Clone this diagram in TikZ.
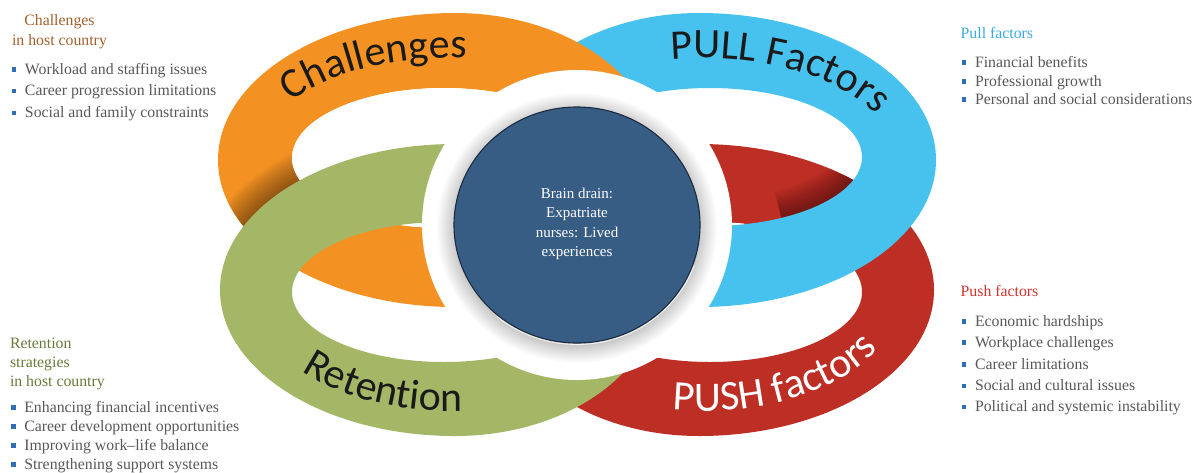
\documentclass[tikz,border=0pt]{standalone}
\usepackage{fontspec}
\setmainfont{Liberation Serif}
\newfontfamily\ringfont{Carlito}
\usetikzlibrary{decorations.text}

\definecolor{ringorange}{HTML}{F39223}
\definecolor{ringblue}{HTML}{47C1EE}
\definecolor{ringred}{HTML}{BD2E25}
\definecolor{ringgreen}{HTML}{A3B767}
\definecolor{corefill}{HTML}{375D85}
\definecolor{coreline}{HTML}{1B2C40}
\definecolor{labelblack}{HTML}{1A1A1A}
\definecolor{listgrey}{HTML}{585858}
\definecolor{bulletblue}{HTML}{2F6EB5}
\definecolor{headbrown}{HTML}{A3602C}
\definecolor{headblue}{HTML}{3AAAE0}
\definecolor{headred}{HTML}{D0342C}
\definecolor{headolive}{HTML}{6A7A3C}

\newcommand\sqbullet{\textcolor{bulletblue}{\rule[2.4pt]{4.6pt}{4.6pt}}\hspace{8.7pt}}

% oval made of four quarter ellipses: centre x, centre y, left radius, right radius, vertical radius
\newcommand\ovalpath[5]{(#1,#2) ++(-#3,0)
  arc[start angle=180, end angle=270, x radius=#3, y radius=#5]
  arc[start angle=270, end angle=360, x radius=#4, y radius=#5]
  arc[start angle=0,   end angle=90,  x radius=#4, y radius=#5]
  arc[start angle=90,  end angle=180, x radius=#3, y radius=#5] -- cycle}

\tikzset{
  listitem/.style={anchor=base west, inner sep=0pt, outer sep=0pt, text=listgrey,
                   font=\fontsize{15.8}{19}\selectfont},
  listhead/.style={anchor=base west, inner sep=0pt, outer sep=0pt,
                   font=\fontsize{15.8}{19}\selectfont},
  coretext/.style={align=center, text=white, inner sep=0pt,
                   font=\fontsize{15}{19.5}\selectfont},
  ringlabel/.style 2 args={decorate, decoration={text along path, text color=#1,
                   text={|\ringfont\fontsize{42}{42}\selectfont|#2}}},
  ringshadow/.style={black, opacity=0.03, line width=#1}
}

\begin{document}
\begin{tikzpicture}[x=1pt, y=-1pt]
\useasboundingbox (0,0) rectangle (1199,472);
\fill[white] (0,0) rectangle (1199,472);

% ---------- rings, back to front ----------
% push factors
\fill[ringred, even odd rule] \ovalpath{699}{290}{204}{235}{146}
                              (710,292) ellipse [x radius=152, y radius=70];
% darkening of the red band where it runs under the pull ring
\begin{scope}
  \clip (710,157) ellipse [x radius=152, y radius=69];
  \clip \ovalpath{699}{290}{204}{235}{146};
  \foreach \w in {4,8,...,56}
    \draw[ringshadow=\w pt] (710,157) ++(-50:152 and 69)
      arc[start angle=-50, end angle=62, x radius=152, y radius=69];
  \fill[white] (710,292) ellipse [x radius=152, y radius=70];
\end{scope}
% pull factors
\fill[ringblue, even odd rule] \ovalpath{699}{160}{204}{237}{147}
                               (710,157) ellipse [x radius=152, y radius=69];
% challenges
\fill[ringorange, even odd rule] \ovalpath{455}{160}{237}{204}{147}
                                 (444,158) ellipse [x radius=152, y radius=70];
% darkening of the orange band next to the retention ring
\begin{scope}
  \clip \ovalpath{455}{160}{237}{204}{147};
  \foreach \w in {4,8,...,56}
    \draw[ringshadow=\w pt] \ovalpath{455}{290}{235}{204}{146};
  \fill[white] (444,158) ellipse [x radius=152, y radius=70];
\end{scope}
% retention
\fill[ringgreen, even odd rule] \ovalpath{455}{290}{235}{204}{146}
                                (444,292) ellipse [x radius=152, y radius=70];

% ---------- central disc ----------
\fill[white] (577,225) circle [radius=155];
% soft drop shadow
\foreach \r in {1,2,...,18}
  \fill[black, opacity=0.011] (577,228) ellipse [x radius=122+\r, y radius=117+\r];
\fill[corefill, draw=coreline, line width=1.1pt] (577,225) ellipse [x radius=123, y radius=118];
\draw[white, opacity=0.8, line width=0.8pt] (577,225) ++(20:124.5 and 119.5)
  arc[start angle=20, end angle=130, x radius=124.5, y radius=119.5];
\node[coretext] (core) at (577,224) {Brain drain:\\Expatriate\\nurses: Lived\\experiences};

% ---------- ring labels ----------
\path[ringlabel={labelblack}{Challenges}]
  (450,160) ++(215:194 and 102) arc[start angle=215, end angle=300, x radius=194, y radius=102];
\path[ringlabel={labelblack}{PULL Factors}]
  (702,160) ++(261:194 and 102) arc[start angle=261, end angle=358, x radius=194, y radius=102];
\path[ringlabel={labelblack}{Retention}]
  (450,290) ++(138:200 and 121) arc[start angle=138, end angle=40, x radius=200, y radius=121];
\path[ringlabel={white}{PUSH factors}]
  (704,290) ++(99:200 and 121) arc[start angle=99, end angle=0, x radius=200, y radius=121];

% ---------- side lists ----------
% challenges in host country
\node[listhead, anchor=base, text=headbrown] (hc1) at (59.5,25) {Challenges};
\node[listhead, anchor=base, text=headbrown] (hc2) at (59.5,45.7) {in host country};
\node[listitem] (c1) at (11.7,74)   {\sqbullet Workload and staffing issues};
\node[listitem] (c2) at (11.7,95.7) {\sqbullet Career progression limitations};
\node[listitem] (c3) at (11.7,117.7){\sqbullet Social and family constraints};

% pull factors
\node[listhead, text=headblue] (hp) at (960.7,38.3) {Pull factors};
\node[listitem] (p1) at (961.7,67.3) {\sqbullet Financial benefits};
\node[listitem] (p2) at (961.7,86)   {\sqbullet Professional growth};
\node[listitem] (p3) at (961.7,104)  {\sqbullet Personal and social considerations};

% push factors
\node[listhead, text=headred] (hs) at (960.7,296) {Push factors};
\node[listitem] (s1) at (961.7,326)   {\sqbullet Economic hardships};
\node[listitem] (s2) at (961.7,347.3) {\sqbullet Workplace challenges};
\node[listitem] (s3) at (961.7,369.3) {\sqbullet Career limitations};
\node[listitem] (s4) at (961.7,390.7) {\sqbullet Social and cultural issues};
\node[listitem] (s5) at (961.7,411.7) {\sqbullet Political and systemic instability};

% retention strategies in host country
\node[listhead, text=headolive] (hr1) at (10,348.3) {Retention};
\node[listhead, text=headolive] (hr2) at (10,367.7) {strategies};
\node[listhead, text=headolive] (hr3) at (10,386.7) {in host country};
\node[listitem] (r1) at (11,412.3) {\sqbullet Enhancing financial incentives};
\node[listitem] (r2) at (11,431)   {\sqbullet Career development opportunities};
\node[listitem] (r3) at (11,450)   {\sqbullet Improving work--life balance};
\node[listitem] (r4) at (11,469)   {\sqbullet Strengthening support systems};
\end{tikzpicture}
\end{document}
